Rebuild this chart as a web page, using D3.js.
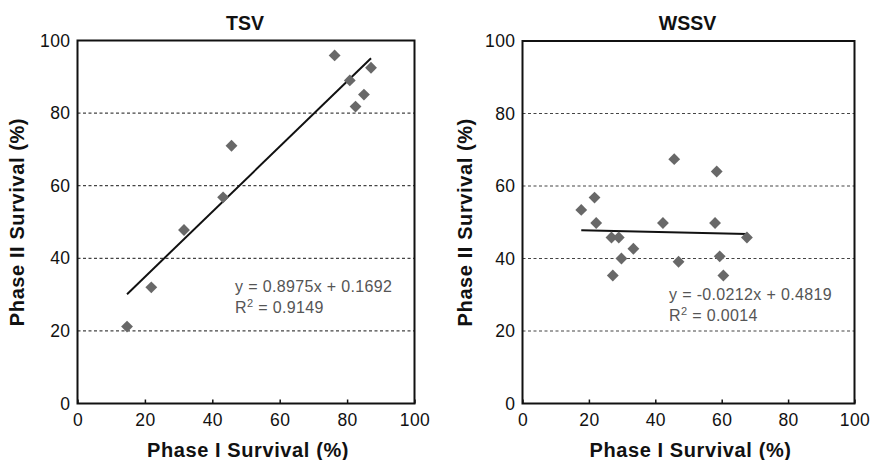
<!DOCTYPE html>
<html>
<head>
<meta charset="utf-8">
<script src="https://cdn.jsdelivr.net/npm/d3@7"></script>
<style>
body { margin: 0; background: #fff; }
svg { display: block; font-family: Arial, "Liberation Sans", sans-serif; }
</style>
</head>
<body>
<svg id="chart" width="873" height="460"></svg>
<script>
// TSV data (Phase I survival %, Phase II survival %)
const tsvX = [14.7, 21.9, 31.6, 43.2, 45.7, 76.3, 80.8, 82.5, 85.0, 87.1];
const tsvY = [21.2, 32.0, 47.8, 56.8, 71.0, 95.9, 89.0, 81.8, 85.1, 92.5];
// WSSV data
const wssvX = [17.7, 21.7, 22.2, 26.8, 29.0, 27.2, 29.8, 33.4, 42.3, 45.7, 47.0, 58.0, 58.5, 59.4, 60.5, 67.6];
const wssvY = [53.4, 56.8, 49.8, 45.8, 45.8, 35.3, 40.0, 42.7, 49.8, 67.4, 39.1, 49.8, 64.0, 40.6, 35.3, 45.8];
// regression fits (slope, intercept as shown, in fractions)
const tsvFit = [0.8975, 0.1692];
const wssvFit = [-0.0212, 0.4819];
const tsvEq = ["y = 0.8975x + 0.1692", "0.9149"];
const wssvEq = ["y = -0.0212x + 0.4819", "0.0014"];
const titles = ["TSV", "WSSV"];
const xTicks = [0, 20, 40, 60, 80, 100];
const yTicks = [0, 20, 40, 60, 80, 100];
const xTitle = "Phase I Survival (%)";
const yTitle = "Phase II Survival (%)";

const svg = d3.select("#chart");

function panel(cfg) {
  const x = d3.scaleLinear().domain([0, 100]).range([cfg.left, cfg.right]);
  const y = d3.scaleLinear().domain([0, 100]).range([cfg.bottom, cfg.top]);
  const g = svg.append("g");

  // grid lines
  g.selectAll("line.grid").data(yTicks.filter(d => d > 0 && d < 100)).join("line")
    .attr("x1", cfg.left).attr("x2", cfg.right)
    .attr("y1", d => y(d)).attr("y2", d => y(d))
    .attr("stroke", "#444").attr("stroke-width", 1.2).attr("stroke-dasharray", "3,2.5");

  // y axis ticks (labels)
  const yAxis = d3.axisLeft(y).tickValues(yTicks).tickSize(0).tickPadding(7);
  const ya = g.append("g").attr("transform", `translate(${cfg.left},0)`).call(yAxis);
  ya.select(".domain").remove();
  ya.selectAll("text").attr("font-size", 17.5).attr("letter-spacing", 0.4).attr("fill", "#111")
    .attr("font-family", "Arial, 'Liberation Sans', sans-serif");

  // x axis: inner ticks
  const xAxis = d3.axisBottom(x).tickValues(xTicks).tickSize(-4).tickPadding(10);
  const xa = g.append("g").attr("transform", `translate(0,${cfg.bottom})`).call(xAxis);
  xa.select(".domain").remove();
  xa.selectAll("line").attr("stroke", "#111").attr("stroke-width", 1.5);
  xa.selectAll("text").attr("font-size", 17.5).attr("letter-spacing", 0.4).attr("fill", "#111")
    .attr("font-family", "Arial, 'Liberation Sans', sans-serif");

  // frame
  g.append("rect").attr("x", cfg.left).attr("y", cfg.top)
    .attr("width", cfg.right - cfg.left).attr("height", cfg.bottom - cfg.top)
    .attr("fill", "none").attr("stroke", "#111").attr("stroke-width", 2);

  // trend line
  const xs = cfg.xs, ys = cfg.ys;
  const x0 = d3.min(xs), x1 = d3.max(xs);
  const f = v => (cfg.fit[0] * v / 100 + cfg.fit[1]) * 100;
  g.append("line")
    .attr("x1", x(x0)).attr("y1", y(f(x0)))
    .attr("x2", x(x1)).attr("y2", y(f(x1)))
    .attr("stroke", "#111").attr("stroke-width", 2);

  // points (diamonds)
  const sym = d3.symbol().type(d3.symbolSquare).size(70);
  g.selectAll("path.pt").data(xs.map((v, i) => [v, ys[i]])).join("path")
    .attr("class", "pt")
    .attr("d", sym)
    .attr("transform", d => `translate(${x(d[0])},${y(d[1])}) rotate(45)`)
    .attr("fill", "#686868");

  // equation text
  const t = g.append("text").attr("x", cfg.eqX).attr("y", cfg.eqY)
    .attr("font-size", 16).attr("letter-spacing", 0.35).attr("fill", "#555");
  t.text(cfg.eq[0]);
  const r = g.append("text").attr("x", cfg.eqX).attr("y", cfg.eqY + 21)
    .attr("font-size", 16).attr("letter-spacing", 0.35).attr("fill", "#555");
  r.append("tspan").text("R");
  r.append("tspan").attr("font-size", 11).attr("dy", -6).text("2");
  r.append("tspan").attr("dy", 6).text(" = " + cfg.eq[1]);

  // title
  g.append("text").attr("x", (cfg.left + cfg.right) / 2 - 1).attr("y", 30)
    .attr("text-anchor", "middle").attr("font-size", 19.5).attr("font-weight", "bold")
    .attr("fill", "#111").text(cfg.title);

  // x title
  g.append("text").attr("x", (cfg.left + cfg.right) / 2 + 2).attr("y", 457)
    .attr("text-anchor", "middle").attr("font-size", 20).attr("letter-spacing", 0.6).attr("font-weight", "bold")
    .attr("fill", "#111").text(xTitle);

  // y title
  g.append("text").attr("transform", `translate(${cfg.yTitleX},${(cfg.top + cfg.bottom) / 2}) rotate(-90)`)
    .attr("text-anchor", "middle").attr("font-size", 20).attr("letter-spacing", 0.6).attr("font-weight", "bold")
    .attr("fill", "#111").text(yTitle);
}

panel({ left: 77.5, right: 414.5, top: 40.5, bottom: 403.5, xs: tsvX, ys: tsvY, fit: tsvFit,
  eq: tsvEq, eqX: 235, eqY: 292, title: titles[0], yTitleX: 24 });
panel({ left: 522.5, right: 854.5, top: 41, bottom: 403.5, xs: wssvX, ys: wssvY, fit: wssvFit,
  eq: wssvEq, eqX: 669, eqY: 300, title: titles[1], yTitleX: 472 });
</script>
</body>
</html>
